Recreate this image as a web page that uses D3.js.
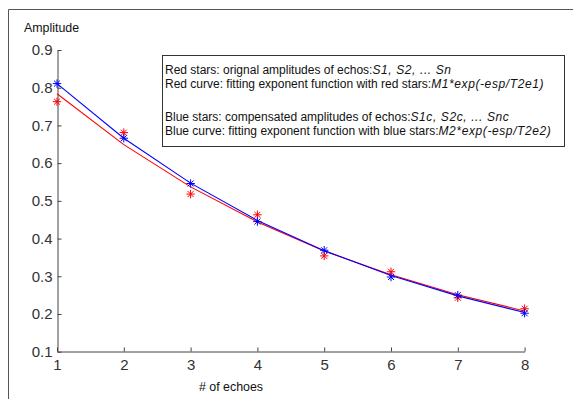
<!DOCTYPE html>
<html><head><meta charset="utf-8">
<script src="https://cdn.jsdelivr.net/npm/d3@7"></script>
<style>body{margin:0;background:#fff}svg{display:block}</style>
</head><body>
<script>
const echoes = [1,2,3,4,5,6,7,8];
const redStars = [0.763,0.681,0.518,0.463,0.354,0.312,0.243,0.214];
const blueStars = [0.811,0.666,0.546,0.445,0.369,0.298,0.250,0.202];
const redCurve = [0.784,0.649,0.537,0.444,0.367,0.304,0.251,0.208];
const blueCurve = [0.811,0.666,0.547,0.448,0.368,0.302,0.248,0.204];
const yTicks = [0.1,0.2,0.3,0.4,0.5,0.6,0.7,0.8,0.9];
const xTicks = [1,2,3,4,5,6,7,8];
const legendLines = [
  ["Red stars: orignal amplitudes of echos:","S1, S2, ...  Sn"],
  ["Red curve: fitting exponent function with red stars:","M1*exp(-esp/T2e1)"],
  ["Blue stars: compensated amplitudes of echos:","S1c, S2c, ...  Snc"],
  ["Blue curve: fitting exponent function with blue stars:","M2*exp(-esp/T2e2)"]
];
const legendRowY = [73.5, 87.5, 120.5, 134.5];

const W=573,H=399;
const FONT="Arial, 'Liberation Sans', sans-serif";
const svg=d3.select("body").append("svg").attr("width",W).attr("height",H);
svg.append("path").attr("d","M8.5,"+(H+2)+"V9.5H"+(W+2)).attr("fill","none").attr("stroke","#555").attr("stroke-width",1);

const x=d3.scaleLinear().domain([1,8]).range([57,524.6]);
const y=d3.scaleLinear().domain([0.1,0.9]).range([351.7,50]);

const gx=svg.append("g").attr("transform","translate(0,351.5)")
  .call(d3.axisBottom(x).tickValues(xTicks).tickSizeInner(-4).tickSizeOuter(0).tickPadding(8).tickFormat(d3.format("d")));
const gy=svg.append("g").attr("transform","translate(57.5,0)")
  .call(d3.axisLeft(y).tickValues(yTicks).tickSizeInner(-4).tickSizeOuter(0).tickPadding(5).tickFormat(d3.format(".1f")));
[gx,gy].forEach(g=>{
  g.select(".domain").attr("stroke","#444");
  g.selectAll(".tick line").attr("stroke","#444");
  g.selectAll(".tick text").attr("fill","#333").style("font-family",FONT).style("font-size","15px");
});

svg.append("text").attr("x",24).attr("y",32).text("Amplitude")
  .style("font-family",FONT).style("font-size","12.4px").attr("fill","#111");
svg.append("text").attr("x",231).attr("y",391).attr("text-anchor","middle").text("# of echoes")
  .style("font-family",FONT).style("font-size","12.4px").attr("fill","#111");

const line=d3.line().x((d,i)=>x(echoes[i])).y(d=>y(d));
function stars(vals,color){
  const r=4.2, a=r*0.707;
  const g=svg.append("g");
  vals.forEach((v,i)=>{
    const cx=x(echoes[i]), cy=y(v);
    g.append("path").attr("d",`M${cx-r},${cy}H${cx+r}M${cx},${cy-r}V${cy+r}M${cx-a},${cy-a}L${cx+a},${cy+a}M${cx-a},${cy+a}L${cx+a},${cy-a}`)
      .attr("stroke",color).attr("stroke-width",1).attr("fill","none");
  });
}
svg.append("path").datum(redCurve).attr("d",line).attr("fill","none").attr("stroke","#ff0000").attr("stroke-width",1.1);
svg.append("path").datum(blueCurve).attr("d",line).attr("fill","none").attr("stroke","#0000ff").attr("stroke-width",1.1);
stars(redStars,"#ff0000");
stars(blueStars,"#0000ff");

svg.append("rect").attr("x",162.5).attr("y",55.5).attr("width",402).attr("height",91)
  .attr("fill","#fff").attr("stroke","#333").attr("stroke-width",1);
legendLines.forEach((l,i)=>{
  const t=svg.append("text").attr("x",165).attr("y",legendRowY[i])
    .style("font-family",FONT).style("font-size","12px").attr("fill","#111");
  t.append("tspan").text(l[0]);
  t.append("tspan").text(l[1]).style("font-style","italic").style("letter-spacing","0.6px");
});
</script>
</body></html>
